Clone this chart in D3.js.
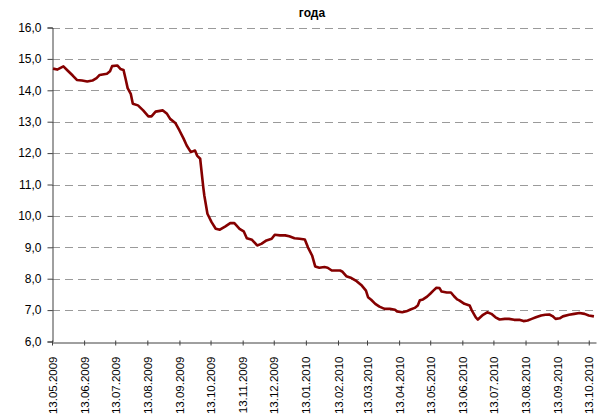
<!DOCTYPE html>
<html>
<head>
<meta charset="utf-8">
<script src="https://cdn.jsdelivr.net/npm/d3@7"></script>
<style>
    body { margin: 0; background: #fff; }
    text { font-family: Arial, "Liberation Sans", sans-serif; fill: #000; }
</style>
</head>
<body>
<div id="chart"></div>
<script>

// Chart data
// ============================================
var chartTitle = "года";

var dates = [
    "14.05.2009", "18.05.2009", "24.05.2009", "28.05.2009", "02.06.2009", "06.06.2009",
    "11.06.2009", "16.06.2009", "21.06.2009", "25.06.2009", "28.06.2009", "05.07.2009",
    "08.07.2009", "10.07.2009", "15.07.2009", "18.07.2009", "21.07.2009", "23.07.2009",
    "25.07.2009", "28.07.2009", "30.07.2009", "04.08.2009", "09.08.2009", "14.08.2009",
    "17.08.2009", "21.08.2009", "28.08.2009", "01.09.2009", "04.09.2009", "09.09.2009",
    "13.09.2009", "17.09.2009", "20.09.2009", "24.09.2009", "28.09.2009", "30.09.2009",
    "03.10.2009", "06.10.2009", "07.10.2009", "10.10.2009", "14.10.2009", "18.10.2009",
    "22.10.2009", "27.10.2009", "01.11.2009", "05.11.2009", "10.11.2009", "14.11.2009",
    "17.11.2009", "22.11.2009", "27.11.2009", "01.12.2009", "06.12.2009", "11.12.2009",
    "14.12.2009", "19.12.2009", "24.12.2009", "28.12.2009", "02.01.2010", "07.01.2010",
    "12.01.2010", "15.01.2010", "19.01.2010", "22.01.2010", "26.01.2010", "31.01.2010",
    "03.02.2010", "07.02.2010", "15.02.2010", "17.02.2010", "21.02.2010", "26.02.2010",
    "03.03.2010", "08.03.2010", "12.03.2010", "14.03.2010", "17.03.2010", "21.03.2010",
    "25.03.2010", "30.03.2010", "04.04.2010", "09.04.2010", "11.04.2010", "16.04.2010",
    "20.04.2010", "24.04.2010", "28.04.2010", "01.05.2010", "03.05.2010", "06.05.2010",
    "10.05.2010", "13.05.2010", "16.05.2010", "19.05.2010", "22.05.2010", "24.05.2010",
    "29.05.2010", "02.06.2010", "05.06.2010", "08.06.2010", "10.06.2010", "15.06.2010",
    "20.06.2010", "22.06.2010", "26.06.2010", "28.06.2010", "03.07.2010", "07.07.2010",
    "11.07.2010", "15.07.2010", "19.07.2010", "24.07.2010", "28.07.2010", "02.08.2010",
    "07.08.2010", "11.08.2010", "15.08.2010", "19.08.2010", "23.08.2010", "28.08.2010",
    "01.09.2010", "05.09.2010", "08.09.2010", "11.09.2010", "15.09.2010", "18.09.2010",
    "24.09.2010", "29.09.2010", "04.10.2010", "09.10.2010", "13.10.2010", "18.10.2010"
];

var values = [
    14.69, 14.66, 14.76, 14.63, 14.47, 14.33,
    14.31, 14.28, 14.31, 14.39, 14.49, 14.53,
    14.61, 14.77, 14.79, 14.68, 14.65, 14.37,
    14.07, 13.89, 13.57, 13.52, 13.36, 13.17,
    13.17, 13.32, 13.36, 13.25, 13.09, 12.96,
    12.72, 12.46, 12.24, 12.03, 12.08, 11.92,
    11.82, 10.91, 10.65, 10.07, 9.80, 9.59,
    9.56, 9.66, 9.77, 9.77, 9.59, 9.51,
    9.29, 9.24, 9.06, 9.11, 9.22, 9.27,
    9.40, 9.38, 9.38, 9.35, 9.29, 9.27,
    9.25, 9.00, 8.74, 8.39, 8.35, 8.37,
    8.35, 8.26, 8.26, 8.23, 8.08, 8.02,
    7.92, 7.78, 7.62, 7.41, 7.33, 7.20,
    7.11, 7.04, 7.04, 7.01, 6.96, 6.93,
    6.96, 7.02, 7.07, 7.15, 7.31, 7.34,
    7.43, 7.52, 7.62, 7.71, 7.70, 7.59,
    7.56, 7.56, 7.44, 7.34, 7.31, 7.20,
    7.15, 7.00, 6.77, 6.70, 6.85, 6.93,
    6.88, 6.77, 6.70, 6.72, 6.72, 6.69,
    6.69, 6.65, 6.67, 6.72, 6.77, 6.83,
    6.85, 6.86, 6.81, 6.72, 6.74, 6.80,
    6.85, 6.88, 6.91, 6.88, 6.83, 6.80
];

var xTickLabels = [
    "13.05.2009", "13.06.2009", "13.07.2009", "13.08.2009", "13.09.2009", "13.10.2009",
    "13.11.2009", "13.12.2009", "13.01.2010", "13.02.2010", "13.03.2010", "13.04.2010",
    "13.05.2010", "13.06.2010", "13.07.2010", "13.08.2010", "13.09.2010", "13.10.2010"
];

var yTicks = [6, 7, 8, 9, 10, 11, 12, 13, 14, 15, 16];

// Set up the chart
// ================================
var svgWidth = 597;
var svgHeight = 416;

var plot = { left: 52, right: 596, top: 27.5, bottom: 341.5 };

var parseDate = d3.timeParse("%d.%m.%Y");

var series = dates.map((d, i) => ({ date: parseDate(d), value: values[i] }));

var svg = d3.select("#chart")
    .append("svg")
    .attr("width", svgWidth)
    .attr("height", svgHeight);

// Scales
// ================================
var xScale = d3.scaleTime()
    .domain([parseDate("13.05.2009"), parseDate("20.10.2010")])
    .range([plot.left, plot.right]);

var yScale = d3.scaleLinear()
    .domain([6, 16])
    .range([plot.bottom, plot.top]);

// Dashed gridlines
// ================================
svg.append("g")
    .selectAll("line")
    .data(yTicks.filter(t => t > 6))
    .enter()
    .append("line")
    .attr("x1", plot.left)
    .attr("x2", plot.right)
    .attr("y1", d => Math.round(yScale(d)) + 0.5)
    .attr("y2", d => Math.round(yScale(d)) + 0.5)
    .attr("stroke", "#9a9a9a")
    .attr("stroke-width", 1)
    .attr("stroke-dasharray", "8,5");

// Y axis
// ================================
var leftAxis = d3.axisLeft(yScale)
    .tickValues(yTicks)
    .tickSize(5)
    .tickPadding(6)
    .tickFormat(d => d3.format(".1f")(d).replace(".", ","));

var yAxis = svg.append("g")
    .attr("transform", `translate(${plot.left + 0.5}, 0)`)
    .call(leftAxis);

yAxis.select(".domain").attr("stroke", "#404040");
yAxis.selectAll(".tick line").attr("stroke", "#404040");
yAxis.selectAll(".tick text")
    .style("font-size", "12px")
    .style("font-family", "Arial, 'Liberation Sans', sans-serif");

// X axis
// ================================
var bottomAxis = d3.axisBottom(xScale)
    .tickValues(xTickLabels.map(parseDate))
    .tickSize(0)
    .tickFormat(d3.timeFormat("%d.%m.%Y"));

var xAxis = svg.append("g")
    .attr("transform", `translate(0, ${Math.round(plot.bottom) + 0.5})`)
    .call(bottomAxis);

xAxis.select(".domain").attr("stroke", "#404040");

xAxis.selectAll(".tick")
    .append("line")
    .attr("y1", -2)
    .attr("y2", 3)
    .attr("stroke", "#404040");

xAxis.selectAll(".tick text")
    .attr("transform", "rotate(-90)")
    .attr("x", -14)
    .attr("y", 0)
    .attr("dy", "0.35em")
    .attr("text-anchor", "end")
    .style("font-size", "11.5px")
    .style("font-family", "Arial, 'Liberation Sans', sans-serif");

// Line
// ================================
var line = d3.line()
    .x(d => xScale(d.date))
    .y(d => yScale(d.value));

svg.append("path")
    .datum(series)
    .attr("fill", "none")
    .attr("stroke", "#850000")
    .attr("stroke-width", 2.6)
    .attr("stroke-linejoin", "round")
    .attr("d", line);

// Title
// ================================
svg.append("text")
    .attr("x", 312)
    .attr("y", 17)
    .attr("text-anchor", "middle")
    .style("font-size", "12px")
    .style("font-weight", "bold")
    .text(chartTitle);

</script>
</body>
</html>
